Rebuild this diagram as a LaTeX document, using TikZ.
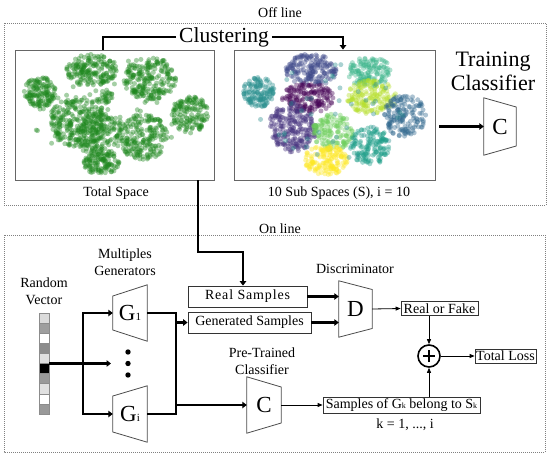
\documentclass[tikz,border=0pt]{standalone}
\usepackage{fontspec}
\setmainfont{Liberation Serif}
\usepackage{xcolor}
\usetikzlibrary{arrows.meta,positioning}

\definecolor{ptgreen}{RGB}{30,135,30}
\definecolor{vteal}{HTML}{2A8F8E}
\definecolor{vslate}{HTML}{3F4A8A}
\definecolor{vtgreen}{HTML}{3BB48A}
\definecolor{vygreen}{HTML}{B5DE2B}
\definecolor{vdblue}{HTML}{31688E}
\definecolor{vdpurple}{HTML}{440154}
\definecolor{vpurple}{HTML}{46337E}
\definecolor{vgreen}{HTML}{6CCD5A}
\definecolor{vteal2}{HTML}{1F9E89}
\definecolor{vyellow}{HTML}{FDE725}

% small subscript sitting on the baseline
\newcommand{\lsub}[2][8]{\raisebox{-0.5pt}{\fontsize{#1}{#1}\selectfont #2}}
% cloud of points: x, y, rx, ry, colour, count
\newcommand{\blob}[6]{%
  \foreach \bk in {1,...,#6}{%
    \pgfmathsetmacro{\blobang}{360*rnd}%
    \pgfmathsetmacro{\blobrad}{sqrt(rnd)}%
    \fill[#5, fill opacity=0.4] ({#1+#3*\blobrad*cos(\blobang)},{#2+#4*\blobrad*sin(\blobang)}) circle (2.5pt);
  }}

\begin{document}
\begin{tikzpicture}[
    x=1pt, y=-1pt,
    font=\fontsize{14}{17}\selectfont,
    lbl/.style={align=center, inner sep=0pt},
    biglbl/.style={align=center, inner sep=3pt, font=\fontsize{21.5}{23.5}\selectfont},
    zone/.style={draw=gray, line width=0.8pt, dash pattern=on 1pt off 1pt},
    plotbox/.style={draw=gray!80!black, line width=0.9pt, inner sep=0pt},
    sampbox/.style={draw=black!80, line width=0.8pt, inner sep=1pt},
    cell/.style={draw=black!45, line width=0.5pt, minimum width=10pt, minimum height=10.1pt, inner sep=0pt},
    dot/.style={circle, fill, inner sep=0pt, minimum size=5.4pt},
    trapnode/.style={inner sep=0pt, font=\fontsize{23}{23}\selectfont},
    trapline/.style={draw=black!70, line width=0.8pt},
    bline/.style={line width=2.5pt},
    fatarrow/.style={bline, -{Triangle[length=4.5pt,width=6.5pt]}},
    arrow/.style={-{Triangle[length=5pt,width=4pt]}, line width=0.8pt}
]
\useasboundingbox (0,0) rectangle (550,459);

% ---- off line
\node[lbl] (offl) at (280,13) {Off line};
\draw[zone] (4,23) rectangle (546,205);
\node[plotbox, minimum width=199pt, minimum height=130pt] (tot) at (114.5,115) {};
\node[plotbox, minimum width=201pt, minimum height=130pt] (sub) at (334.5,115) {};
\pgfmathsetseed{7}
\foreach \bx/\by/\rx/\ry/\n in {40/92/16/15/140, 92/70/26/16/180, 150/79/26/22/220, 190/114/18/19/140,
    78/122/29/25/250, 100/135/23/23/170, 143/137/25/23/200, 101/162/18/13/110, 105/97/9/8/30, 115/115/85/58/70}
  \blob{\bx}{\by}{\rx}{\ry}{ptgreen}{\n};
\foreach \bx/\by/\rx/\ry/\n/\bc in {259/92/16/15/140/vteal, 311/70/26/16/180/vslate, 369/72/23/15/140/vtgreen,
    372/97/25/17/160/vygreen, 405/116/21/21/160/vdblue, 308/98/26/15/160/vdpurple, 293/127/24/25/230/vpurple,
    333/132/21/18/140/vgreen, 370/146/20/19/150/vteal2, 326/160/22/15/150/vyellow, 334/112/80/50/45/vteal}
  \blob{\bx}{\by}{\rx}{\ry}{\bc}{\n};
\node[lbl] (totl) at (116,193) {Total Space};
\node[lbl] (subl) at (339,193) {10 Sub Spaces (S), i = 10};
\node[biglbl] (clus) at (224,37) {Clustering};
\node[biglbl, font=\fontsize{22}{23.5}\selectfont] (train) at (493,71.5) {Training\\Classifier};
\node[trapnode, minimum width=32pt, minimum height=57pt] (cs) at (500,126.5) {C};
\draw[trapline] (cs.north west) -- ([yshift=19.5pt]cs.east) -- ([yshift=-19.5pt]cs.east) -- (cs.south west) -- cycle;
\draw[bline] (clus.west) -| ([xshift=-11.5pt]tot.north);
\draw[fatarrow] (clus.east) -| ([xshift=8.5pt]sub.north);
\draw[fatarrow] ([xshift=4pt]sub.east |- cs.west) -- (cs.west);

% ---- on line
\node[lbl] (onl) at (280,229) {On line};
\draw[zone] (4,235) rectangle (545,452);
\node[lbl] (rvl) at (44,291.5) {Random\\Vector};
\node[inner sep=0pt, minimum width=10pt, minimum height=101pt] (vec) at (44,363.5) {};
\foreach \c [count=\i] in {black!14, black!38, white, black!45, black!12, black, black!40, black!12, white, black!40}
  \node[cell, fill=\c] (v\i) at (44,{313+(\i-0.5)*10.1}) {};
\node[lbl] (mgl) at (125,262) {Multiples\\Generators};
\node[trapnode, minimum width=34pt, minimum height=56pt] (g1) at (130,313) {G\lsub[11]{1}};
\draw[trapline] ([yshift=17pt]g1.west) -- (g1.north east) -- (g1.south east) -- ([yshift=-17pt]g1.west) -- cycle;
\node[trapnode, minimum width=34pt, minimum height=56pt] (gi) at (130,414) {G\lsub[11]{i}};
\draw[trapline] ([yshift=18pt]gi.west) -- (gi.north east) -- (gi.south east) -- ([yshift=-18pt]gi.west) -- cycle;
\node[dot] (dta) at (128,352) {};
\node[dot] (dots) at (128,363.5) {};
\node[dot] (dtb) at (128,375) {};
\coordinate (dotin) at (111,363.5);
\coordinate (sp) at (83,363.5);
\draw[fatarrow] (vec.east) -- (dotin);
\draw[fatarrow] (sp) |- (g1.west);
\draw[fatarrow] (sp) |- (gi.west);
\coordinate (jt) at (176,313);
\coordinate (jb) at (176,414);
\draw[bline] (g1.east) -- (jt) -- (jb) -- (gi.east);

\node[sampbox, minimum width=119pt, minimum height=21pt, font=\fontsize{14}{17}\selectfont\addfontfeature{LetterSpace=6}] (real) at (247.5,296.5) {Real Samples};
\node[sampbox, minimum width=123pt, minimum height=21pt] (gen) at (249.5,322.5) {Generated Samples};
\draw[fatarrow] (jt |- gen.west) -- (gen.west);
\coordinate (brk) at (198,252);
\draw[fatarrow] (tot.south -| brk) -- (brk) -| ([xshift=-4.5pt]real.north);

\node[trapnode, minimum width=33pt, minimum height=56pt] (d) at (355.5,309) {D};
\draw[trapline] (d.north west) -- ([yshift=19.5pt]d.east) -- ([yshift=-19.5pt]d.east) -- (d.south west) -- cycle;
\node[lbl] (dl) at (355,269) {Discriminator};
\draw[fatarrow] (real.east) -- (real.east -| d.west);
\draw[fatarrow] (gen.east) -- (gen.east -| d.west);

\node[sampbox, minimum width=77pt, minimum height=14pt] (rf) at (439.5,308.5) {Real or Fake};
\draw[arrow] (d.east) -- (rf.west);
\node[circle, draw, line width=1.6pt, minimum size=22pt, inner sep=0pt] (plus) at (429,356) {};
\draw[line width=1.6pt] ([xshift=-6pt]plus.center) -- ([xshift=6pt]plus.center)
    ([yshift=-6pt]plus.center) -- ([yshift=6pt]plus.center);
\node[sampbox, minimum width=61pt, minimum height=14pt] (tl) at (505.5,356) {Total Loss};
\node[sampbox, minimum width=157pt, minimum height=16pt] (smp) at (401.5,405) {Samples of G\lsub{k} belong to S\lsub{k}};
\node[lbl] (kl) at (405,425) {k = 1, ..., i};
\draw[arrow] (rf.south -| plus) -- (plus.north);
\draw[arrow] (smp.north -| plus) -- (plus.south);
\draw[arrow] (plus.east) -- (tl.west);

\node[trapnode, minimum width=34pt, minimum height=56pt] (cp) at (264,405) {C};
\draw[trapline] (cp.north west) -- ([yshift=18pt]cp.east) -- ([yshift=-18pt]cp.east) -- (cp.south west) -- cycle;
\node[lbl] (cpl) at (262,361.5) {Pre-Trained\\Classifier};
\draw[fatarrow] (jt |- cp.west) -- (cp.west);
\draw[arrow] (cp.east) -- (smp.west);
\end{tikzpicture}
\end{document}
